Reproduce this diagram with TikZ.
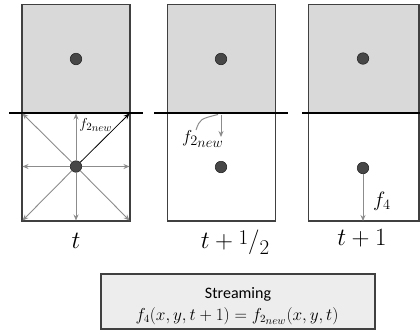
\documentclass[tikz,border=0pt]{standalone}
\usepackage{fontspec}
\newfontfamily\calibri{Carlito}
\usetikzlibrary{arrows.meta}
\definecolor{cellgray}{HTML}{D9D9D9}
\definecolor{boxgray}{HTML}{EDEDED}
\definecolor{edgegray}{HTML}{404040}
\definecolor{arrowgray}{HTML}{8C8C8C}
\definecolor{dotgray}{HTML}{474747}
\newcommand{\fnew}{f_{2_{\scriptstyle new}}}
\begin{document}
\begin{tikzpicture}[x=1pt,y=-1pt,
  cellbox/.style={draw=edgegray,line width=1.1pt},
  wall/.style={draw=black,line width=2.4pt},
  dotnode/.style={circle,fill=dotgray,draw=black!85,line width=0.6pt,minimum size=11.5pt,inner sep=0pt},
  garrow/.style={draw=arrowgray,line width=0.9pt,-{Stealth[length=6pt,width=5pt]}},
  barrow/.style={draw=black,line width=0.8pt,-{Stealth[length=6pt,width=5pt]}},
  lbl/.style={inner sep=0pt,anchor=base}
]
\useasboundingbox (0,0) rectangle (420,333);
% panel 1
\draw[cellbox,fill=cellgray] (22,4.5) rectangle (130,113);
\draw[cellbox] (22,113) rectangle (130,221);
% panel 2
\draw[cellbox,fill=cellgray] (167.5,4.5) rectangle (275.5,113);
\draw[cellbox] (167.5,113) rectangle (275.5,221);
% panel 3
\draw[cellbox,fill=cellgray] (308.5,4.5) rectangle (419,113);
\draw[cellbox] (308.5,113) rectangle (419,221);
% walls
\coordinate (w1a) at (9,113); \coordinate (w1b) at (143,113);
\coordinate (w2a) at (154,113); \coordinate (w2b) at (288,113);
\coordinate (w3a) at (302,113); \coordinate (w3b) at (421,113);
\draw[wall] (w1a) -- (w1b);
\draw[wall] (w2a) -- (w2b);
\draw[wall] (w3a) -- (w3b);
% dots
\node[dotnode] (p1a) at (76,59) {};
\node[dotnode] (p1b) at (76,166.5) {};
\node[dotnode] (p2a) at (221,59) {};
\node[dotnode] (p2b) at (221,167) {};
\node[dotnode] (p3a) at (363,58.5) {};
\node[dotnode] (p3b) at (363,168) {};
% panel 1 arrow targets
\coordinate (tl) at (22.5,113.5); \coordinate (tm) at (76,113.5); \coordinate (tr) at (129.5,113.5);
\coordinate (ml) at (22.5,166.5); \coordinate (mr) at (129.5,166.5);
\coordinate (bl) at (22.5,220.5); \coordinate (bm) at (76,220.5); \coordinate (br) at (129.5,220.5);
\foreach \c in {tl,tm,ml,mr,bl,bm,br} \draw[garrow] (p1b) -- (\c);
\draw[barrow] (p1b) -- (tr);
\node[lbl] (f1) at (96,128) {\fontsize{15}{18}\selectfont$\fnew$};
% panel 2
\coordinate (s2) at (221,114.5); \coordinate (e2) at (221,137);
\draw[garrow] (s2) -- (e2);
\node[lbl] (f2) at (203,142) {\fontsize{19}{24}\selectfont$\fnew$};
\coordinate (c2a) at (196,130); \coordinate (c2b) at (218,114.5);
\draw[draw=arrowgray,line width=1pt] (c2a) .. controls (200,119) .. (c2b);
% panel 3
\coordinate (e3) at (363,221);
\draw[garrow] (p3b) -- (e3);
\node[lbl] (f3) at (382,206) {\fontsize{20}{24}\selectfont$f_4$};
% time labels
\node[lbl] (t1) at (76,248) {\fontsize{26}{30}\selectfont$t$};
\node[lbl] (t2) at (235,248) {\fontsize{26}{30}\selectfont$t+\mathord{\raisebox{4pt}{\fontsize{21}{21}\selectfont 1}}/\mathord{\raisebox{-6pt}{\fontsize{21}{21}\selectfont 2}}$};
\node[lbl] (t3) at (362,245) {\fontsize{26}{30}\selectfont$t+1$};
% bottom box
\draw[draw=edgegray,line width=1.1pt,fill=boxgray] (101,274) rectangle (375,329);
\node[lbl] (st) at (238,298) {\fontsize{16}{19}\selectfont\calibri Streaming};
\node[lbl] (eq) at (237,320) {\fontsize{16}{19}\selectfont$f_4(x,y,t+1)=\fnew(x,y,t)$};
\end{tikzpicture}
\end{document}
